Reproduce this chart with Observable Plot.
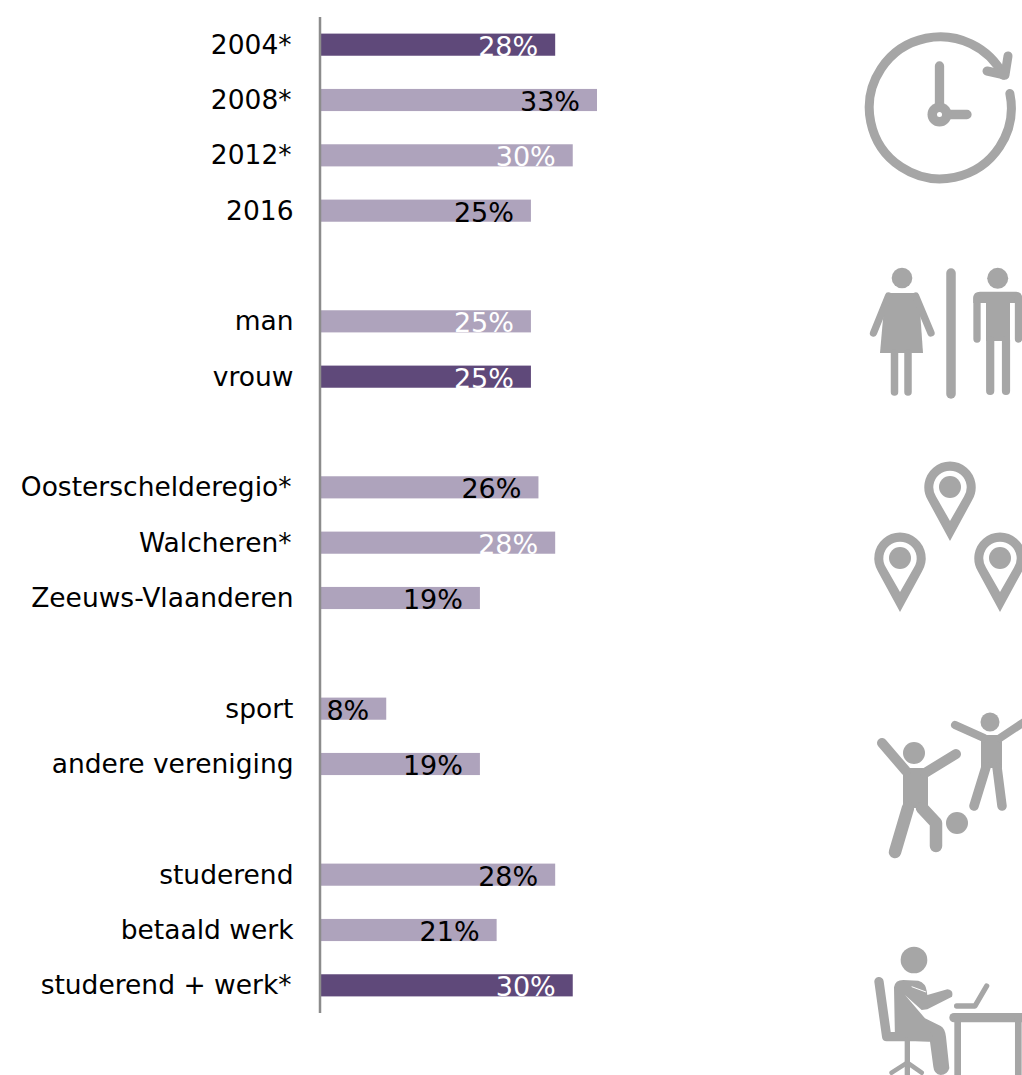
<!DOCTYPE html>
<html>
<head>
<meta charset="utf-8">
<script src="https://cdn.jsdelivr.net/npm/d3@7"></script>
<script src="https://cdn.jsdelivr.net/npm/@observablehq/plot@0.6"></script>
<style>
html,body{margin:0;padding:0;background:#fff;overflow:hidden}
svg{display:block}
</style>
</head>
<body>
<div id="chart"></div>
<script>
const rowOrder = ["2004*","2008*","2012*","2016","gap1","man","vrouw","gap2","Oosterschelderegio*","Walcheren*","Zeeuws-Vlaanderen","gap3","sport","andere vereniging","gap4","studerend","betaald werk","studerend + werk*"];
const categories = ["2004*","2008*","2012*","2016","man","vrouw","Oosterschelderegio*","Walcheren*","Zeeuws-Vlaanderen","sport","andere vereniging","studerend","betaald werk","studerend + werk*"];
const values = [28,33,30.1,25.1,25.1,25.1,26,28,19,7.8,19,28,21,30.1];
const highlighted = ["2004*","vrouw","studerend + werk*"];
const whiteLabelled = ["2004*","2012*","man","vrouw","Walcheren*","studerend + werk*"];

const rows = categories.map((name,i)=>({name,value:values[i]}));
const GREY = "#a6a6a6";

// Decorative pictograms on the right-hand side (not data)
function icons(){
  const ns="http://www.w3.org/2000/svg";
  const g=document.createElementNS(ns,"g");
  const pin=(x,y)=>`<g transform="translate(${x},${y})"><path fill="${GREY}" d="M0,54 L-22,13.5 A25.7,25.7 0 1 1 22,13.5 Z"/><path fill="#fff" d="M0,34 L-14,9.5 A16.7,16.7 0 1 1 14,9.5 Z"/><circle r="11" fill="${GREY}"/></g>`;
  g.innerHTML=`
  <g fill="none" stroke="${GREY}" stroke-linecap="round" stroke-linejoin="round">
    <circle cx="940.3" cy="107.8" r="71" stroke-width="9" pathLength="360" stroke-dasharray="344.2 15.8" transform="rotate(-11.6 940.3 107.8)"/>
    <path stroke-width="9" d="M1008,56 L1005,75 L987,71"/>
    <path stroke-width="9.3" d="M939.5,66 V114.5 H967"/>
  </g>
  <circle cx="939.5" cy="114.5" r="12" fill="${GREY}"/><circle cx="939.5" cy="114.5" r="2.5" fill="#fff"/>

  <g fill="${GREY}">
    <circle cx="902" cy="278" r="10.3"/>
    <path d="M888,293 H916 Q918,293 919,296 L923,353 H880 L885,296 Q886,293 888,293 Z"/>
    <circle cx="997.7" cy="278.3" r="10.5"/>
    <path d="M980,291.7 H1016 Q1022,291.7 1022,298 V303 H973.3 V298 Q973.3,291.7 980,291.7 Z"/>
    <rect x="986" y="292" width="24" height="49"/>
  </g>
  <g fill="none" stroke="${GREY}" stroke-linecap="round" stroke-linejoin="round">
    <path stroke-width="7.3" d="M888.5,296 L873.5,333 M915.5,296 L931,333"/>
    <path stroke-width="7.5" d="M894.5,353 V392 M908,353 V392"/>
    <path stroke-width="9.5" d="M951,273 V394"/>
    <path stroke-width="7.3" d="M977,298 V339 M1018.5,298 V339"/>
    <path stroke-width="8.2" d="M990.2,340 V391 M1006,340 V391"/>
  </g>

  ${pin(950,487)}${pin(900,558)}${pin(1000,558)}

  <g fill="${GREY}">
    <circle cx="990" cy="722" r="9.5"/>
    <path d="M981,735 H1002 L1002,768 H981 Z"/>
    <circle cx="914" cy="753" r="11"/>
    <path d="M903,768 H928 V808 H903 Z"/>
    <circle cx="957" cy="823" r="11"/>
  </g>
  <g fill="none" stroke="${GREY}" stroke-linecap="round" stroke-linejoin="round">
    <path stroke-width="8" d="M955,725 L984,738 M1000,738 L1024,722"/>
    <path stroke-width="9.5" d="M986,767 L974,806 M997,767 L1002,806"/>
    <path stroke-width="10" d="M882,743 L906,771 M956,754 L925,773"/>
    <path stroke-width="12.5" d="M908,808 L895,852 M922,808 L936,823 V846"/>
  </g>

  <g transform="translate(850,930) scale(0.3333)">
    <circle cx="192" cy="90" r="40" fill="${GREY}"/>
    <path fill="${GREY}" d="M132,172 Q135,150 160,150 L205,152 Q228,160 230,182 L232,195 L292,178 Q312,180 306,200 L232,238 L215,240 L165,195 L225,265 L272,288 Q285,295 288,320 L298,415 Q292,435 272,435 Q252,432 250,410 L240,335 L135,330 Z"/>
    <g fill="none" stroke="${GREY}" stroke-linecap="round" stroke-linejoin="round">
      <path stroke-width="28" d="M87,155 L110,320 H235"/>
      <path stroke-width="16" d="M172,330 V435"/>
      <path stroke-width="14" d="M172,398 L125,428 M172,398 L215,428"/>
      <path stroke-width="16" d="M410,168 L375,228 H320"/>
      <path stroke-width="28" d="M312,263 H530"/>
      <path stroke-width="20" stroke-linecap="butt" d="M323,263 V440 M505,263 V440"/>
    </g>
    <path d="M185,170 L228,186" stroke="#fff" stroke-width="3" fill="none"/>
  </g>`;
  return g;
}

const FS = 27;
const LABEL_FS = 26.5;
const starred = rows.filter(d => d.name.endsWith("*"));
const plain = rows.filter(d => !d.name.endsWith("*"));
const plot = Plot.plot({
  width: 1022,
  height: 1075,
  marginTop: 17,
  marginBottom: 62,
  marginLeft: 0,
  marginRight: 0,
  style: {fontFamily: '"DejaVu Sans", Verdana, sans-serif', background: "#fff", color: "#000", overflow: "hidden"},
  x: {domain: [0,33], range: [321,597], axis: null},
  y: {domain: rowOrder, paddingInner: 0.6, paddingOuter: 0.3, round: false, axis: null},
  color: {type: "identity"},
  marks: [
    Plot.barX(rows, {x1: 0, x2: "value", y: "name", fill: d => highlighted.includes(d.name) ? "#5f497a" : "#aea3bc"}),
    Plot.text(rows, {x: "value", y: "name", text: d => Math.round(d.value) + "%", textAnchor: "end", dx: -17.5, dy: 2, fontSize: FS,
      fill: d => whiteLabelled.includes(d.name) ? "#ffffff" : "#000000"}),
    Plot.text(plain, {x: 0, y: "name", text: "name", textAnchor: "end", dx: -28, fontSize: LABEL_FS, fill: "#000"}),
    Plot.text(starred, {x: 0, y: "name", text: "name", textAnchor: "end", dx: -30, fontSize: LABEL_FS, fill: "#000"}),
    Plot.ruleX([0], {dx: -1.5, stroke: "#8c8c8c", strokeWidth: 2.5, strokeOpacity: 1}),
    () => icons()
  ]
});
document.getElementById("chart").append(plot);
</script>
</body>
</html>
